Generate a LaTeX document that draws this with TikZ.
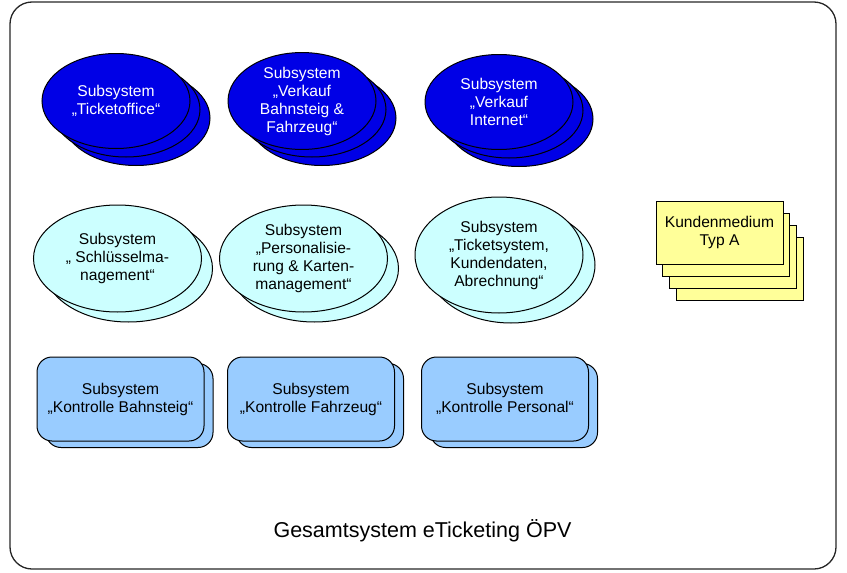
\documentclass[tikz,border=0pt]{standalone}
\usepackage{fontspec}
\setmainfont{Liberation Sans}
\usetikzlibrary{shapes.geometric}
\definecolor{dunkelblau}{RGB}{0,0,230}
\definecolor{hellcyan}{RGB}{204,255,255}
\definecolor{hellblau}{RGB}{153,204,255}
\definecolor{hellgelb}{RGB}{255,255,153}
\begin{document}
\begin{tikzpicture}[x=1pt, y=-1pt, line width=1pt,
	blau style/.style={ellipse, draw, fill=dunkelblau, minimum width=148pt, minimum height=95pt, inner sep=0pt, align=center, text=white, font=\fontsize{15.6pt}{18pt}\selectfont},
	hell style/.style={ellipse, draw, fill=hellcyan, minimum width=168pt, minimum height=107pt, inner sep=0pt, align=center, font=\fontsize{15.6pt}{18pt}\selectfont},
	kontroll style/.style={rectangle, draw, rounded corners=15pt, fill=hellblau, minimum width=167pt, minimum height=84pt, inner sep=0pt, align=center, font=\fontsize{15.6pt}{18pt}\selectfont},
	karten style/.style={rectangle, draw, fill=hellgelb, minimum width=127pt, minimum height=63pt, inner sep=0pt, align=center, font=\fontsize{15.6pt}{18pt}\selectfont}]
	\useasboundingbox (0,0) rectangle (847,573);
	\node[draw, black!85, line width=1.3pt, rounded corners=22pt, minimum width=826pt, minimum height=567pt] (R) at (423,285.5) {};
	% obere Reihe
	\foreach \x/\y [count=\i] in {116/101, 302/101, 499/102}
	\foreach \d in {2,1}
	\node[blau style] (S\i-\d) at (\x+10*\d, \y+8.5*\d) {};
	\node[blau style] (S1) at (116, 101) {Subsystem\\„Ticketoffice“};
	\node[blau style] (S2) at (302, 101) {Subsystem\\„Verkauf\\Bahnsteig \&\\Fahrzeug“};
	\node[blau style] (S3) at (499, 102) {Subsystem\\„Verkauf\\Internet“};
	% mittlere Reihe
	\node[hell style] (M1-1) at (128.5, 268.5) {};
	\node[hell style] (M2-1) at (314.5, 268.5) {};
	\node[hell style, minimum height=116pt] (M3-1) at (511, 265) {};
	\node[hell style] (M1) at (117.5, 258.5) {Subsystem\\„ Schlüsselma-\\nagement“};
	\node[hell style] (M2) at (303.5, 258.5) {Subsystem\\„Personalisie-\\rung \& Karten-\\management“};
	\node[hell style, minimum height=116pt] (M3) at (499, 255) {Subsystem\\„Ticketsystem,\\Kundendaten,\\Abrechnung“};
	% untere Reihe
	\foreach \x [count=\i] in {120.5, 311, 505}
	\node[kontroll style] (K\i-1) at (\x+9, 405.5) {};
	\node[kontroll style] (K1) at (120.5, 399) {Subsystem\\„Kontrolle Bahnsteig“};
	\node[kontroll style] (K2) at (311, 399) {Subsystem\\„Kontrolle Fahrzeug“};
	\node[kontroll style] (K3) at (505, 399) {Subsystem\\„Kontrolle Personal“};
	% Kundenmedium
	\foreach \d in {3,2,1}
	\node[karten style] (C-\d) at (719.5+6.7*\d, 232.5+12.3*\d) {};
	\node[karten style] (C) at (719.5, 232.5) {Kundenmedium\\Typ A};
	\node[font=\fontsize{21.5pt}{24pt}\selectfont, anchor=base] (G) at (422.5, 537) {Gesamtsystem eTicketing ÖPV};
\end{tikzpicture}
\end{document}
